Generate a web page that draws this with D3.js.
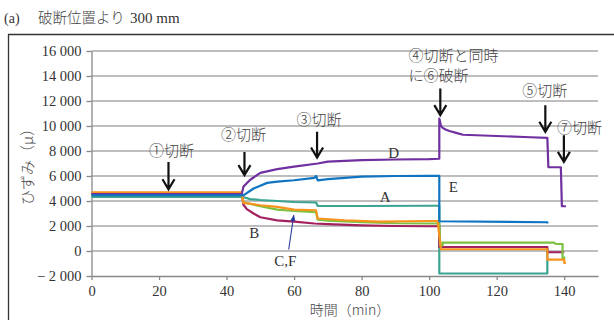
<!DOCTYPE html>
<html>
<head>
<meta charset="utf-8">
<script src="https://cdn.jsdelivr.net/npm/d3@7"></script>
<style>
  body { margin: 0; background: #fff; }
  svg { display: block; }
  .serif { font-family: "Liberation Serif", "DejaVu Serif", serif; fill: #333; }
  .jp { font-family: "Noto Sans CJK JP", sans-serif; fill: #444; font-weight: 300; }
</style>
</head>
<body>
<svg width="614" height="320"></svg>
<script>
// strain gauge readings (time in min, strain in micro)
var seriesNames = ["A", "B", "C", "F", "D", "E"];
var seriesColors = ["#3aa491", "#a3215f", "#7cc142", "#f7941d", "#7030a0", "#0f74c2"];

var tA = [0, 44.5, 45, 47, 50, 55, 60, 66.5, 67, 80, 100, 103, 103, 135, 135];
var vA = [4330, 4330, 4300, 4150, 4080, 4000, 3920, 3880, 3600, 3600, 3620, 3620, -1800, -1800, 150];

var tB = [0, 44.5, 45, 46, 48, 50, 55, 60, 66, 70, 80, 90, 100, 103, 103, 135, 135, 140];
var vB = [4600, 4600, 3700, 3350, 3000, 2700, 2450, 2350, 2200, 2150, 2050, 2000, 1980, 1980, 320, 320, -100, -100];

var tC = [0, 44.5, 45, 50, 55, 60, 66.5, 67, 70, 80, 90, 100, 103, 103.3, 104, 104, 137, 137.5, 139.5, 139.5, 140.3];
var vC = [4450, 4450, 3900, 3580, 3310, 3200, 3100, 2500, 2420, 2300, 2220, 2200, 2200, 450, 450, 670, 670, 560, 560, -600, -500];

var tF = [0, 44.5, 45, 50, 55, 60, 66.5, 67, 75, 85, 100, 102.5, 103.5, 135, 135, 140, 140, 140.5];
var vF = [4700, 4700, 3850, 3660, 3530, 3310, 3260, 2600, 2460, 2350, 2400, 2400, 140, 140, -690, -690, -950, -950];

var tD = [0, 44.5, 45, 47, 50, 55, 60, 67, 70, 80, 90, 100, 103, 103, 103.5, 104, 105, 106, 108, 110, 120, 130, 135, 135.3, 139, 139.3, 140.5];
var vD = [4550, 4550, 5150, 5700, 6250, 6550, 6750, 7000, 7150, 7270, 7320, 7350, 7380, 10600, 10000, 9850, 9700, 9600, 9450, 9300, 9200, 9100, 9050, 6700, 6700, 3580, 3580];

var tE = [0, 44.5, 45, 48, 52, 55, 60, 66, 66.5, 67, 70, 80, 90, 100, 103, 103, 135, 135];
var vE = [4450, 4450, 4450, 5000, 5450, 5550, 5660, 5850, 6000, 5650, 5750, 5950, 6000, 6010, 6010, 2380, 2300, 2200];

var xTicks = [0, 20, 40, 60, 80, 100, 120, 140];
var yTicks = [-2000, 0, 2000, 4000, 6000, 8000, 10000, 12000, 14000, 16000];

// cutting events: label, time of arrow, arrow top/tip strain
var cutLabels = ["①切断", "②切断", "③切断", "⑤切断", "⑦切断"];
var cutTimes = [22.8, 45.3, 66.8, 134.4, 139.9];
var cutTops = [7130, 7930, 9540, 11670, 9270];
var cutTips = [4940, 6070, 7480, 9540, 7130];
var cutTextT = [23.7, 45, 67.4, 134.2, 144.5];
var cutTextV = [7990, 9300, 10500, 12830, 9870];

var svg = d3.select("svg"),
	margin = {top: 51, right: 16, bottom: 44, left: 91.5},
	width = 598 - margin.left,
	height = 276 - margin.top;

var x = d3.scaleLinear().domain([0, 150]).range([margin.left, margin.left + width]);
var y = d3.scaleLinear().domain([-2000, 16000]).range([margin.top + height, margin.top]);

// number format with a space as thousands separator
function fmt(v) {
	var s = Math.abs(v).toString().replace(/\B(?=(\d{3})+(?!\d))/g, " ");
	return v < 0 ? "\u2212 " + s : s;
}

// frame
svg.append("path")
	.attr("d", "M8.5,320 V34.5 H614")
	.attr("fill", "none")
	.attr("stroke", "#333")
	.attr("stroke-width", 1.3);

// title
svg.append("text").attr("class", "serif").attr("x", 4).attr("y", 23)
	.style("font-size", "14px").text("(a)");
svg.append("text").attr("class", "jp").attr("x", 38).attr("y", 23)
	.style("font-size", "14.5px").text("破断位置より");
svg.append("text").attr("class", "serif").attr("x", 130).attr("y", 23)
	.style("font-size", "15px").text("300 mm");

// grid
svg.append("g").selectAll("line")
	.data(yTicks.filter(function (d) { return d > -2000; }))
	.enter().append("line")
	.attr("x1", x(0)).attr("x2", x(150))
	.attr("y1", function (d) { return y(d); })
	.attr("y2", function (d) { return y(d); })
	.attr("stroke", "#a8a8a8")
	.attr("stroke-width", 1.3);

// axes
var xAxis = svg.append("g")
	.attr("transform", "translate(0," + y(-2000) + ")")
	.call(d3.axisBottom(x).tickValues(xTicks).tickSize(4).tickSizeOuter(0).tickPadding(6));
var yAxis = svg.append("g")
	.attr("transform", "translate(" + x(0) + ",0)")
	.call(d3.axisLeft(y).tickValues(yTicks).tickFormat(fmt).tickSize(5).tickSizeOuter(0).tickPadding(5));

[xAxis, yAxis].forEach(function (g) {
	g.select(".domain").attr("stroke", "#888").attr("stroke-width", 1.3);
	g.selectAll(".tick line").attr("stroke", "#888").attr("stroke-width", 1.3);
	g.selectAll(".tick text")
		.attr("class", "serif")
		.style("font-size", "14.5px")
		.attr("fill", "#333");
});

// axis titles
svg.append("text").attr("class", "jp")
	.attr("transform", "translate(33,163) rotate(-90)")
	.attr("text-anchor", "middle")
	.style("font-size", "15px")
	.text("ひずみ（μ）");
svg.append("text").attr("class", "jp")
	.attr("x", 350).attr("y", 315)
	.attr("text-anchor", "middle")
	.style("font-size", "14px")
	.text("時間（min）");

// lines
var times = [tA, tB, tC, tF, tD, tE];
var vals = [vA, vB, vC, vF, vD, vE];
var line = d3.line()
	.x(function (d) { return x(d[0]); })
	.y(function (d) { return y(d[1]); });

svg.append("g").selectAll("path")
	.data(seriesNames)
	.enter().append("path")
	.attr("d", function (d, i) { return line(d3.zip(times[i], vals[i])); })
	.attr("fill", "none")
	.attr("stroke", function (d, i) { return seriesColors[i]; })
	.attr("stroke-width", 2.2)
	.attr("stroke-linejoin", "round");

// series labels
var labelText = ["D", "A", "B", "C,F", "E"];
var labelT = [89.5, 87, 48.2, 57.4, 105.8];
var labelV = [7840, 4320, 1470, -740, 5180];
svg.append("g").selectAll("text")
	.data(labelText)
	.enter().append("text")
	.attr("class", "serif")
	.attr("x", function (d, i) { return x(labelT[i]); })
	.attr("y", function (d, i) { return y(labelV[i]); })
	.attr("dy", "0.35em")
	.attr("text-anchor", function (d) { return d === "E" ? "start" : "middle"; })
	.style("font-size", "15px")
	.attr("fill", "#222")
	.text(function (d) { return d; });

// small pointer from C,F to its lines
svg.append("defs").append("marker")
	.attr("id", "navy")
	.attr("viewBox", "0 0 10 10")
	.attr("refX", 9).attr("refY", 5)
	.attr("markerWidth", 6).attr("markerHeight", 6)
	.attr("orient", "auto")
	.append("path").attr("d", "M0,1 L10,5 L0,9 Z").attr("fill", "#2b3c9a");
svg.append("line")
	.attr("x1", x(58.4)).attr("y1", y(120))
	.attr("x2", x(59.9)).attr("y2", y(2860))
	.attr("stroke", "#2b3c9a").attr("stroke-width", 1.1)
	.attr("marker-end", "url(#navy)");

// cut arrows
function arrow(t, top, tip) {
	var px = x(t), y0 = y(top), y1 = y(tip);
	return "M" + px + "," + y0 + " V" + y1 + " M" + (px - 6) + "," + (y1 - 10) +
		" L" + px + "," + y1 + " L" + (px + 6) + "," + (y1 - 10);
}
var arrowT = cutTimes.concat([103.3]);
var arrowTop = cutTops.concat([13010]);
var arrowTip = cutTips.concat([10870]);
svg.append("g").selectAll("path")
	.data(arrowT)
	.enter().append("path")
	.attr("d", function (d, i) { return arrow(d, arrowTop[i], arrowTip[i]); })
	.attr("fill", "none")
	.attr("stroke", "#111")
	.attr("stroke-width", 2.2);

svg.append("g").selectAll("text")
	.data(cutLabels)
	.enter().append("text")
	.attr("class", "jp")
	.attr("x", function (d, i) { return x(cutTextT[i]); })
	.attr("y", function (d, i) { return y(cutTextV[i]); })
	.attr("dy", "0.35em")
	.attr("text-anchor", "middle")
	.style("font-size", "15px")
	.text(function (d) { return d; });

var cut4 = ["④切断と同時", "に⑥破断"];
var cut4V = [15650, 14050];
svg.append("g").selectAll("text")
	.data(cut4)
	.enter().append("text")
	.attr("class", "jp")
	.attr("x", x(93.9))
	.attr("y", function (d, i) { return y(cut4V[i]); })
	.attr("dy", "0.35em")
	.style("font-size", "15px")
	.text(function (d) { return d; });
</script>
</body>
</html>
